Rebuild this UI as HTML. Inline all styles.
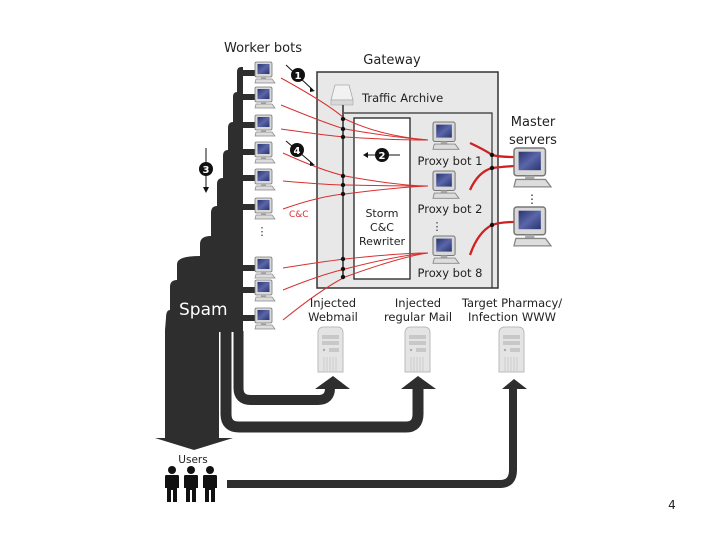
<!DOCTYPE html>
<html><head><meta charset="utf-8"><style>
html,body{margin:0;padding:0;background:#fff;}
svg{display:block;font-family:"DejaVu Sans","Liberation Sans",sans-serif;}
</style></head><body>
<svg width="720" height="540" viewBox="0 0 720 540" xmlns="http://www.w3.org/2000/svg">
<defs>
<linearGradient id="scr" x1="0" y1="0" x2="1" y2="1"><stop offset="0" stop-color="#2a3470"/><stop offset="0.5" stop-color="#5a66a8"/><stop offset="1" stop-color="#2a3470"/></linearGradient>
<g id="pc">
<rect x="0" y="0" width="17" height="15" rx="1.5" fill="#d8d8d8" stroke="#777" stroke-width="0.8"/>
<rect x="2.5" y="2" width="12" height="10" fill="url(#scr)"/>
<rect x="6" y="15" width="5" height="2" fill="#aaa"/>
<path d="M1 17 L17 17 L20 21 L0 21 Z" fill="#ddd" stroke="#888" stroke-width="0.7"/>
</g>
<g id="srv">
<path d="M0 6 Q0 0 6 0 L19 0 Q25 0 25 6 L25 45 L0 45 Z" fill="#e4e4e4" stroke="#bbb" stroke-width="1"/>
<rect x="4" y="8" width="17" height="4" fill="#c8c8c8"/>
<rect x="4" y="14" width="17" height="4" fill="#c8c8c8"/>
<rect x="11" y="21" width="10" height="4" fill="#c8c8c8"/>
<circle cx="6" cy="23" r="1.2" fill="#aaa"/>
<path d="M6 30 V44 M9 30 V44 M12 30 V44 M15 30 V44 M18 30 V44" stroke="#ccc" stroke-width="1"/>
</g>
<g id="usr">
<circle cx="7" cy="4" r="4" fill="#111"/>
<path d="M1 9 H13 Q14 9 14 11 V22 H12 V36 H8 V24 H6 V36 H2 V22 H0 V11 Q0 9 1 9 Z" fill="#111"/>
</g>
</defs>

<!-- staircase -->
<path d="M243 67 L241 67 Q237 67 237 72 L237 92 Q233 92 233 97 L233 122 Q228 122 228 128 L228 150 Q223 150 223 156 L223 178 Q217 178 217 184 L217 206 Q211 206 211 213 L211 236 Q200 236 200 244 L200 256 Q177 256 177 264 L177 280 Q170 280 170 287 L170 310 Q166 310 166 318 L165 330 L165 438 L155 438 L194 450 L233 438 L219 438 L219 332 L243 332 Z" fill="#2e2e2e"/>
<g fill="#2e2e2e">
<rect x="241" y="70" width="15" height="6"/><rect x="241" y="94" width="15" height="6"/><rect x="241" y="122" width="15" height="6"/><rect x="241" y="149" width="15" height="6"/><rect x="241" y="175" width="15" height="6"/><rect x="241" y="204" width="15" height="6"/><rect x="241" y="265" width="15" height="6"/><rect x="241" y="287" width="15" height="6"/><rect x="241" y="315" width="15" height="6"/>
</g>
<!-- arrows from spam -->
<path d="M238.5 331 V388 Q238.5 400 251 400 H318 Q330 400 330 388" fill="none" stroke="#2e2e2e" stroke-width="10"/>
<path d="M226 331 V414 Q226 427 239 427 H406 Q418 427 418 414 V388" fill="none" stroke="#2e2e2e" stroke-width="11"/>
<path d="M315 389 L333 376 L350 389 Z" fill="#2e2e2e"/>
<path d="M401 389 L418 376 L436 389 Z" fill="#2e2e2e"/>
<path d="M227 484 H500 Q513 484 513 470 V388" fill="none" stroke="#2e2e2e" stroke-width="8"/>
<path d="M502 389 L514 379 L527 389 Z" fill="#2e2e2e"/>

<!-- worker bots -->
<use href="#pc" x="255" y="62"/><use href="#pc" x="255" y="87"/><use href="#pc" x="255" y="115"/><use href="#pc" x="255" y="142"/><use href="#pc" x="255" y="169"/><use href="#pc" x="255" y="198"/><use href="#pc" x="255" y="257"/><use href="#pc" x="255" y="280"/><use href="#pc" x="255" y="308"/>
<text x="262" y="235" font-size="11" text-anchor="middle" fill="#222">⋮</text>
<text x="263" y="52" font-size="13" text-anchor="middle" fill="#222">Worker bots</text>
<text x="179" y="315" font-size="17" fill="#fff">Spam</text>

<!-- gateway -->
<rect x="317" y="72" width="181" height="216" fill="#e8e8e8" stroke="#333" stroke-width="1.5"/>
<path d="M344 113 H492 V288" fill="none" stroke="#333" stroke-width="1.2"/>
<rect x="354" y="118" width="56" height="161" fill="#fff" stroke="#222" stroke-width="1.3"/>
<text x="392" y="64" font-size="13" text-anchor="middle" fill="#222">Gateway</text>
<path d="M335 85 H349 L353 100 H331 Z" fill="#f2f2f2" stroke="#aaa" stroke-width="0.8"/>
<rect x="331" y="100" width="22" height="5" fill="#d8d8d8" stroke="#aaa" stroke-width="0.6"/>
<text x="362" y="102" font-size="11.5" fill="#222">Traffic Archive</text>
<line x1="343" y1="105" x2="343" y2="278" stroke="#111" stroke-width="1.3"/>
<text x="382" y="217" font-size="11" text-anchor="middle" fill="#222">Storm</text>
<text x="382" y="231" font-size="11" text-anchor="middle" fill="#222">C&amp;C</text>
<text x="382" y="245" font-size="11" text-anchor="middle" fill="#222">Rewriter</text>

<!-- red lines -->
<g fill="none" stroke="#d83030" stroke-width="1">
<path d="M281 78 Q330 105 345 119 Q380 136 428 140"/>
<path d="M281 105 Q330 125 345 129 Q390 137 428 140"/>
<path d="M281 129 Q330 136 345 137 Q390 140 428 140"/>
<path d="M283 153 Q320 170 345 176 Q400 186 428 186"/>
<path d="M283 181 Q330 185 345 185 Q400 186 428 186"/>
<path d="M283 209 Q320 196 345 194 Q400 187 428 186"/>
<path d="M283 268 Q320 262 345 259 Q400 253 428 253"/>
<path d="M283 290 Q320 275 345 269 Q400 255 428 253"/>
<path d="M283 320 Q320 290 345 277 Q400 257 428 253"/>
</g>
<text x="289" y="217" font-size="9" fill="#d83030">C&amp;C</text>
<g fill="none" stroke="#d02020" stroke-width="2.3">
<path d="M470 143 Q485 150 492 155 Q500 157 514 157"/>
<path d="M470 190 Q478 172 492 168 Q500 167 514 166"/>
<path d="M470 255 Q478 232 492 225 Q500 222 514 222"/>
</g>
<g fill="#111">
<circle cx="343" cy="119" r="2.2"/><circle cx="343" cy="129" r="2.2"/><circle cx="343" cy="137" r="2.2"/>
<circle cx="343" cy="176" r="2.2"/><circle cx="343" cy="185" r="2.2"/><circle cx="343" cy="194" r="2.2"/>
<circle cx="343" cy="259" r="2.2"/><circle cx="343" cy="269" r="2.2"/><circle cx="343" cy="277" r="2.2"/>
<circle cx="492" cy="155" r="2.2"/><circle cx="492" cy="168" r="2.2"/><circle cx="492" cy="225" r="2.2"/>
</g>

<!-- proxy bots -->
<g transform="translate(433,122) scale(1.3)"><use href="#pc"/></g>
<g transform="translate(433,171) scale(1.3)"><use href="#pc"/></g>
<g transform="translate(433,236) scale(1.3)"><use href="#pc"/></g>
<text x="450" y="165" font-size="11.5" text-anchor="middle" fill="#222">Proxy bot 1</text>
<text x="450" y="213" font-size="11.5" text-anchor="middle" fill="#222">Proxy bot 2</text>
<text x="450" y="277" font-size="11.5" text-anchor="middle" fill="#222">Proxy bot 8</text>
<text x="437" y="230" font-size="11" text-anchor="middle" fill="#222">⋮</text>

<!-- masters -->
<text x="533" y="126" font-size="13" text-anchor="middle" fill="#222">Master</text>
<text x="533" y="144" font-size="13" text-anchor="middle" fill="#222">servers</text>
<g transform="translate(514,148) scale(1.85)"><use href="#pc"/></g>
<g transform="translate(514,207) scale(1.85)"><use href="#pc"/></g>
<text x="532" y="203" font-size="12" text-anchor="middle" fill="#222">⋮</text>

<!-- numbered circles -->
<g stroke="#111" stroke-width="1" fill="none">
<line x1="286" y1="65" x2="313" y2="90"/><line x1="286" y1="141" x2="313" y2="164"/>
<line x1="365" y1="155" x2="400" y2="155"/><line x1="206" y1="148" x2="206" y2="190"/>
</g>
<g fill="#111">
<path d="M310 88 L315 91 L310 92 Z"/><path d="M310 162 L315 165 L310 166 Z"/>
<path d="M363 155 L368 152 L368 158 Z"/><path d="M203 187 L209 187 L206 193 Z"/>
<circle cx="298" cy="75" r="7"/><circle cx="297" cy="150" r="7"/><circle cx="382" cy="155" r="7"/><circle cx="206" cy="169" r="7"/>
</g>
<g fill="#fff" font-size="10" font-weight="bold" text-anchor="middle">
<text x="298" y="79">1</text><text x="297" y="154">4</text><text x="382" y="159">2</text><text x="206" y="173">3</text>
</g>

<!-- bottom servers -->
<text x="333" y="307" font-size="11.5" text-anchor="middle" fill="#222">Injected</text>
<text x="333" y="321" font-size="11.5" text-anchor="middle" fill="#222">Webmail</text>
<text x="418" y="307" font-size="11.5" text-anchor="middle" fill="#222">Injected</text>
<text x="418" y="321" font-size="11.5" text-anchor="middle" fill="#222">regular Mail</text>
<text x="512" y="307" font-size="11.5" text-anchor="middle" fill="#222">Target Pharmacy/</text>
<text x="512" y="321" font-size="11.5" text-anchor="middle" fill="#222">Infection WWW</text>
<use href="#srv" x="318" y="327"/><use href="#srv" x="405" y="327"/><use href="#srv" x="499" y="327"/>

<!-- users -->
<text x="193" y="463" font-size="10.5" text-anchor="middle" fill="#222">Users</text>
<use href="#usr" x="165" y="466"/><use href="#usr" x="184" y="466"/><use href="#usr" x="203" y="466"/>

<text x="672" y="509" font-size="12" text-anchor="middle" fill="#222">4</text>
</svg>
</body></html>
